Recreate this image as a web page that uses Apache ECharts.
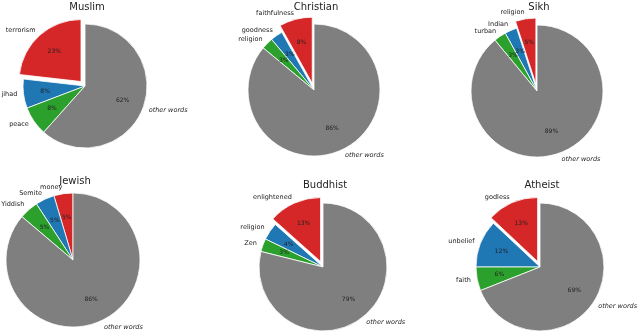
<!DOCTYPE html>
<html>
<head>
<meta charset="utf-8">
<script src="https://cdn.jsdelivr.net/npm/echarts@6/dist/echarts.min.js"></script>
<style>
  html, body { margin: 0; padding: 0; background: #fff; }
  #chart { width: 640px; height: 333px; }
</style>
</head>
<body>
<div id="chart"></div>
<script>
// word shares (percent), order follows the pie: red, blue, green, grey
var titles = ['Muslim', 'Christian', 'Sikh', 'Jewish', 'Buddhist', 'Atheist'];

var muslimWords = ['terrorism', 'jihad', 'peace', 'other words'];
var muslimValues = [23.2, 7.6, 7.6, 61.6];

var christianWords = ['faithfulness', 'goodness', 'religion', 'other words'];
var christianValues = [8.1, 3.0, 2.9, 86.0];

var sikhWords = ['religion', 'Indian', 'turban', 'other words'];
var sikhValues = [5.0, 3.0, 3.0, 89.0];

var jewishWords = ['money', 'Semite', 'Yiddish', 'other words'];
var jewishValues = [4.6, 4.6, 4.6, 86.2];

var buddhistWords = ['enlightened', 'religion', 'Zen', 'other words'];
var buddhistValues = [13.4, 4.4, 3.3, 78.9];

var atheistWords = ['godless', 'unbelief', 'faith', 'other words'];
var atheistValues = [13.0, 12.0, 6.0, 69.0];

var words = [muslimWords, christianWords, sikhWords, jewishWords, buddhistWords, atheistWords];
var values = [muslimValues, christianValues, sikhValues, jewishValues, buddhistValues, atheistValues];

// layout per pie
var centers = [[85, 86], [314, 90], [537, 91], [73, 260], [323, 267], [540, 267]];
var radii = [62, 66, 66, 67, 64, 64];
var titleTops = [0, 0, 0, 174, 178, 178];
var exploded = [true, true, true, false, true, true];
var colors = ['#d62728', '#1f77b4', '#2ca02c', '#7f7f7f'];
var font = 'DejaVu Sans';

var chart = echarts.init(document.getElementById('chart'), null, { renderer: 'canvas' });

var title = [];
var series = [];

titles.forEach(function (t, i) {
    var r = radii[i];
    var offset = Math.round(r * 0.1);
    title.push({
        text: t,
        left: centers[i][0],
        top: titleTops[i],
        padding: 2,
        textAlign: 'center',
        textStyle: { fontFamily: font, fontSize: 10, fontWeight: 'normal', color: '#222' }
    });

    var nameData = words[i].map(function (w, k) {
        var d = {
            name: w,
            value: values[i][k],
            itemStyle: { color: colors[k] },
            selected: exploded[i] && k === 0
        };
        if (w === 'other words') d.label = { fontStyle: 'italic' };
        return d;
    });
    var pctData = words[i].map(function (w, k) {
        return { name: w, value: values[i][k], selected: exploded[i] && k === 0 };
    });

    // coloured wedges with the word labels just outside
    series.push({
        type: 'pie',
        center: centers[i],
        radius: [0, r],
        startAngle: 90,
        clockwise: false,
        selectedMode: 'single',
        selectedOffset: offset,
        avoidLabelOverlap: false,
        labelLayout: { hideOverlap: false },
        animation: false,
        itemStyle: { borderColor: '#fff', borderWidth: 0.8 },
        emphasis: { disabled: true },
        label: {
            position: 'outside',
            formatter: '{b}',
            fontFamily: font,
            fontSize: 6.5,
            color: '#222',
            distanceToLabelLine: 0
        },
        labelLine: { show: false, length: r * 0.1, length2: 0 },
        data: nameData
    });

    // invisible copy whose inside labels land at 0.6 r
    series.push({
        type: 'pie',
        center: centers[i],
        radius: [0, r * 1.2],
        startAngle: 90,
        clockwise: false,
        selectedMode: 'single',
        selectedOffset: offset,
        avoidLabelOverlap: false,
        labelLayout: { hideOverlap: false },
        silent: true,
        animation: false,
        itemStyle: { color: 'rgba(0,0,0,0)' },
        label: {
            position: 'inside',
            formatter: function (p) { return Math.round(p.percent) + '%'; },
            fontFamily: font,
            fontSize: 6,
            color: '#222'
        },
        labelLine: { show: false },
        data: pctData
    });
});

chart.setOption({
    backgroundColor: '#fff',
    title: title,
    series: series
});
</script>
</body>
</html>
